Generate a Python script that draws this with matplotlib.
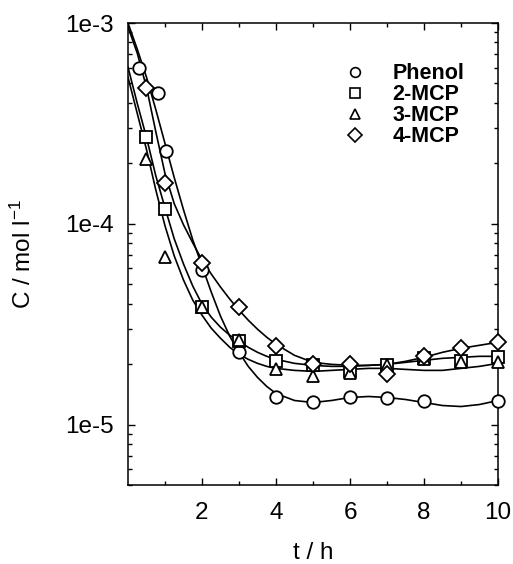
import numpy as np
import matplotlib
matplotlib.use("Agg")
import matplotlib.pyplot as plt
from matplotlib.lines import Line2D
from matplotlib.ticker import LogLocator, NullFormatter, FixedLocator

plt.rcParams['font.family'] = ['Liberation Sans', 'DejaVu Sans']
plt.rcParams['mathtext.fontset'] = 'custom'
plt.rcParams['mathtext.rm'] = 'Liberation Sans'
plt.rcParams['mathtext.it'] = 'Liberation Sans:italic'

# measured points (t in h, C in mol/l)
t_phenol = [0.3, 0.8, 1.03, 2, 3, 4, 5, 6, 7, 8, 10]
c_phenol = [6.0e-4, 4.47e-4, 2.3e-4, 5.9e-5, 2.3e-5, 1.38e-5, 1.29e-5, 1.38e-5, 1.36e-5, 1.31e-5, 1.31e-5]

t_2mcp = [0.5, 1, 2, 3, 4, 5, 6, 7, 8, 9, 10]
c_2mcp = [2.7e-4, 1.18e-4, 3.85e-5, 2.6e-5, 2.08e-5, 1.99e-5, 1.84e-5, 1.99e-5, 2.14e-5, 2.07e-5, 2.17e-5]

t_3mcp = [0.5, 1, 2, 3, 4, 5, 6, 7, 8, 9, 10]
c_3mcp = [2.11e-4, 6.8e-5, 3.85e-5, 2.65e-5, 1.89e-5, 1.74e-5, 1.80e-5, 1.99e-5, 2.12e-5, 2.05e-5, 2.05e-5]

t_4mcp = [0.5, 1, 2, 3, 4, 5, 6, 7, 8, 9, 10]
c_4mcp = [4.75e-4, 1.6e-4, 6.4e-5, 3.85e-5, 2.45e-5, 2.0e-5, 2.0e-5, 1.78e-5, 2.2e-5, 2.4e-5, 2.57e-5]

# fitted curves (log10 of C)
t_fit = [0, 0.25, 0.5, 0.75, 1, 1.25, 1.5, 1.75, 2, 2.25, 2.5, 2.75, 3, 3.25, 3.5, 3.75,
         4, 4.5, 5, 5.5, 6, 6.5, 7, 7.5, 8, 8.5, 9, 9.5, 10]
lg_phenol = [-3.00, -3.13, -3.27, -3.43, -3.60, -3.77, -3.93, -4.08, -4.21, -4.34, -4.46,
             -4.56, -4.64, -4.71, -4.765, -4.81, -4.845, -4.88, -4.89, -4.88, -4.865,
             -4.86, -4.865, -4.875, -4.89, -4.905, -4.91, -4.90, -4.88]
lg_2mcp = [-3.22, -3.40, -3.57, -3.76, -3.92, -4.075, -4.20, -4.31, -4.40, -4.465, -4.515,
           -4.555, -4.585, -4.615, -4.64, -4.66, -4.675, -4.695, -4.705, -4.71, -4.71,
           -4.705, -4.70, -4.69, -4.68, -4.67, -4.665, -4.66, -4.66]
lg_3mcp = [-3.27, -3.45, -3.63, -3.83, -4.01, -4.16, -4.28, -4.38, -4.455, -4.52, -4.57,
           -4.615, -4.65, -4.675, -4.695, -4.71, -4.72, -4.73, -4.735, -4.73, -4.725,
           -4.72, -4.72, -4.725, -4.73, -4.73, -4.72, -4.71, -4.695]
lg_4mcp = [-3.02, -3.15, -3.32, -3.54, -3.75, -3.90, -4.005, -4.095, -4.18, -4.25, -4.315,
           -4.375, -4.43, -4.48, -4.525, -4.565, -4.60, -4.655, -4.69, -4.70, -4.705,
           -4.705, -4.70, -4.685, -4.665, -4.64, -4.62, -4.605, -4.59]

names = ['Phenol', '2-MCP', '3-MCP', '4-MCP']
markers = ['o', 's', '^', 'D']
msizes = [9, 8.5, 9, 8]

fig = plt.figure(figsize=(5.13, 5.64), dpi=100)
ax = fig.add_axes([0.2495, 0.140, 0.7213, 0.8192])

series = [(t_phenol, c_phenol, lg_phenol),
          (t_2mcp, c_2mcp, lg_2mcp),
          (t_3mcp, c_3mcp, lg_3mcp),
          (t_4mcp, c_4mcp, lg_4mcp)]

for (tp, cp, lg), m, ms in zip(series, markers, msizes):
    ax.plot(t_fit, 10.0 ** np.array(lg), color='black', lw=1.2, zorder=2)
    ax.plot(tp, cp, linestyle='none', marker=m, ms=ms, mfc='white',
            mec='black', mew=1.3, zorder=3, clip_on=False)

ax.set_yscale('log')
ax.set_xlim(0, 10)
ax.set_ylim(5e-6, 1e-3)

ax.xaxis.set_major_locator(FixedLocator([2, 4, 6, 8, 10]))
ax.xaxis.set_minor_locator(FixedLocator([1, 3, 5, 7, 9]))
ax.yaxis.set_major_locator(FixedLocator([1e-5, 1e-4, 1e-3]))
ax.yaxis.set_minor_locator(LogLocator(base=10, subs=np.arange(2, 10)))
ax.yaxis.set_minor_formatter(NullFormatter())
ax.set_yticklabels(['1e-5', '1e-4', '1e-3'])

ax.tick_params(which='both', direction='in', top=True, right=True, width=1.0)
ax.tick_params(which='major', length=5, labelsize=17.5)
ax.tick_params(which='minor', length=3)
ax.tick_params(axis='x', which='major', pad=12)
ax.tick_params(axis='y', which='major', pad=10)
for s in ax.spines.values():
    s.set_linewidth(1.1)

ax.set_xlabel('t / h', fontsize=17.5, labelpad=13)
ax.set_ylabel(r'C / mol l$^{-1}$', fontsize=17.5, labelpad=21)

handles = [Line2D([], [], linestyle='none', marker=m, ms=7, mfc='white',
                  mec='black', mew=1.2) for m in markers]
ax.legend(handles, names, loc='upper left', bbox_to_anchor=(0.584, 0.913),
          frameon=False, prop={'weight': 'bold', 'size': 15.5},
          handlelength=1.0, handletextpad=1.25, labelspacing=0.0,
          borderpad=0, borderaxespad=0)

fig.savefig('out.png', dpi=100)
